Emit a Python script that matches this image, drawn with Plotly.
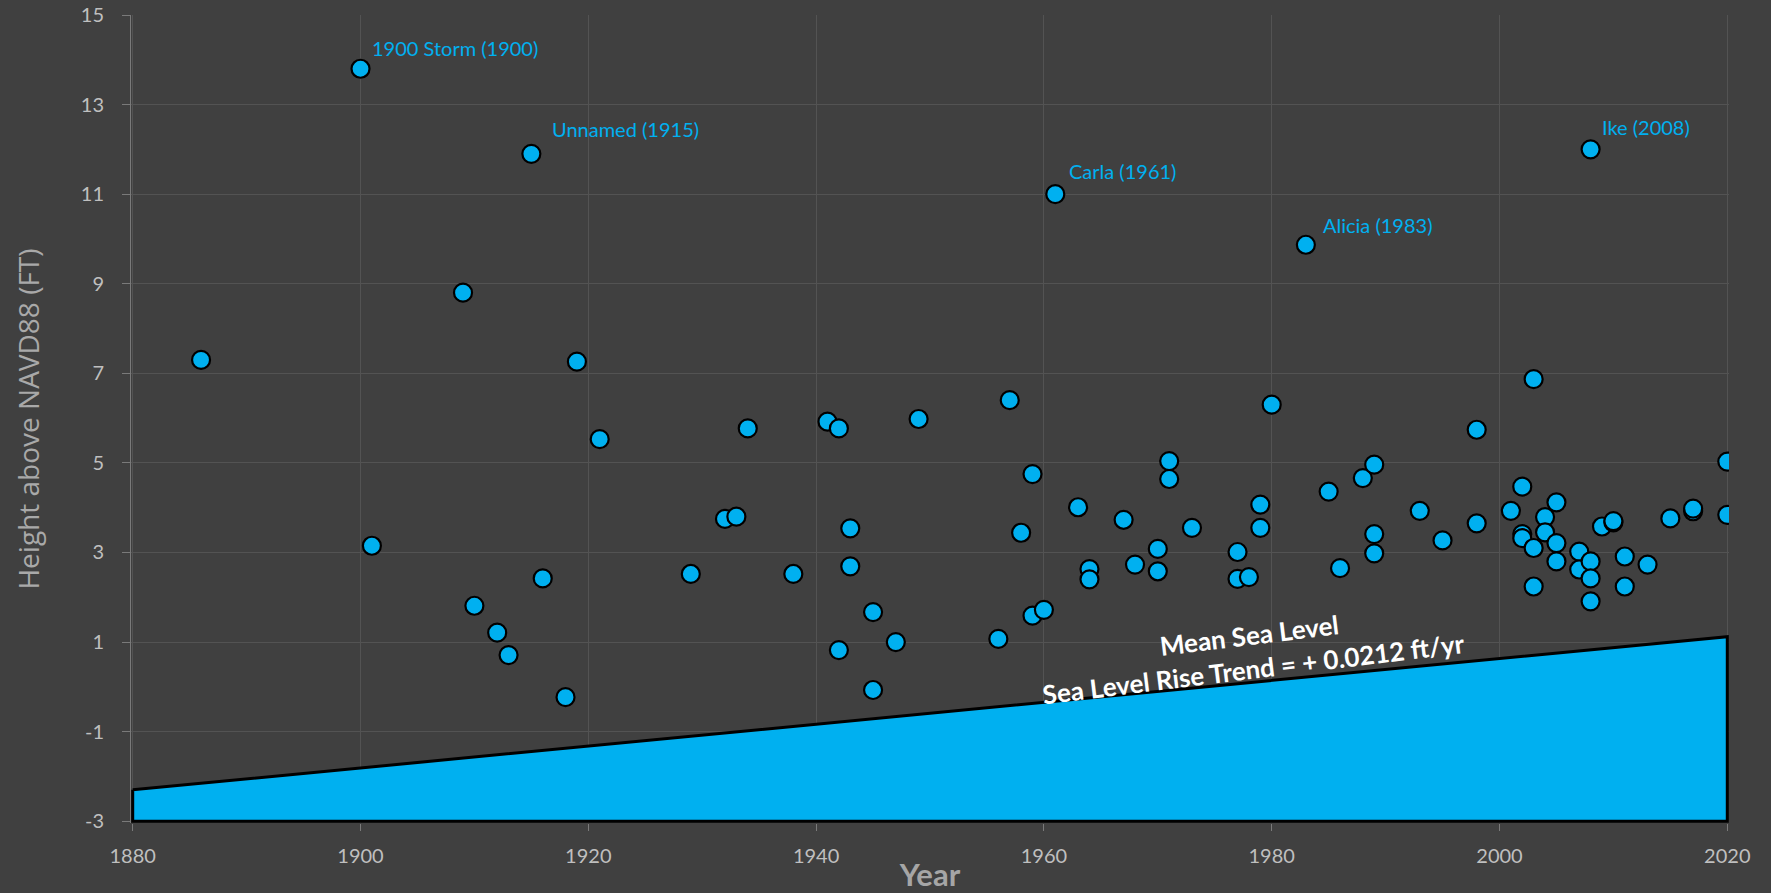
import plotly.graph_objects as go

# surge heights (ft above NAVD88)
years = [
    1886, 1900, 1901, 1909, 1910, 1912, 1913, 1915, 1916, 1918, 1919, 1921,
    1929, 1932, 1933, 1934, 1938, 1941, 1942, 1942, 1943, 1943, 1945, 1945,
    1947, 1949, 1956, 1957, 1958, 1959, 1959, 1960, 1961, 1963, 1964, 1964,
    1967, 1968, 1970, 1970, 1971, 1971, 1973, 1977, 1977, 1978, 1979, 1979,
    1980, 1983, 1985, 1986, 1988, 1989, 1989, 1989, 1993, 1995, 1998, 1998,
    2001, 2002, 2002, 2002, 2003, 2003, 2003, 2004, 2004, 2005, 2005, 2005,
    2007, 2007, 2008, 2008, 2008, 2008, 2009, 2010, 2010, 2011, 2011, 2013,
    2015, 2017, 2017, 2020, 2020,
]
heights = [
    7.30, 13.80, 3.15, 8.80, 1.81, 1.21, 0.71, 11.90, 2.42, -0.23, 7.26, 5.53,
    2.52, 3.75, 3.80, 5.77, 2.52, 5.92, 5.77, 0.82, 3.54, 2.69, 1.67, -0.07,
    1.00, 5.98, 1.07, 6.40, 3.44, 4.75, 1.59, 1.72, 11.00, 4.01, 2.63, 2.40,
    3.73, 2.73, 3.08, 2.58, 5.04, 4.64, 3.55, 3.01, 2.41, 2.45, 4.07, 3.55,
    6.30, 9.87, 4.36, 2.65, 4.66, 4.96, 3.41, 2.98, 3.93, 3.27, 5.74, 3.65,
    3.93, 4.47, 3.41, 3.32, 6.87, 3.10, 2.24, 3.79, 3.45, 4.12, 3.21, 2.80,
    3.02, 2.62, 12.00, 2.80, 2.42, 1.91, 3.58, 3.67, 3.70, 2.91, 2.24, 2.73,
    3.76, 3.92, 3.98, 5.03, 3.84,
]

storm_names = ["1900 Storm (1900)", "Unnamed (1915)", "Carla (1961)", "Alicia (1983)", "Ike (2008)"]
storm_years = [1900, 1915, 1961, 1983, 2008]

msl_years = [1880, 2020]
msl_heights = [-2.3, 1.12]
y_floor = -3

x_ticks = [1880, 1900, 1920, 1940, 1960, 1980, 2000, 2020]
y_ticks = [-3, -1, 1, 3, 5, 7, 9, 11, 13, 15]

BG = "#404040"
BLUE = "#00B0F0"
GRID = "#535353"
TICK_COLOR = "#bfbfbf"

fig = go.Figure()

# mean sea level wedge
fig.add_trace(go.Scatter(
    x=[msl_years[0], msl_years[1], msl_years[1], msl_years[0], msl_years[0]],
    y=[msl_heights[0], msl_heights[1], y_floor, y_floor, msl_heights[0]],
    mode="lines",
    fill="toself",
    fillcolor=BLUE,
    line=dict(color="black", width=3),
    hoverinfo="skip",
    showlegend=False,
))

fig.add_trace(go.Scatter(
    x=years,
    y=heights,
    mode="markers",
    marker=dict(size=18, color=BLUE, line=dict(color="black", width=2.2)),
    showlegend=False,
))

# labels for the big storms, attached to the highest reading of that year
x_shifts = [9, 19, 12, 15, 9]
y_shifts = [21, 25, 23, 20, 22]
for name, yr, dx, dy in zip(storm_names, storm_years, x_shifts, y_shifts):
    h = max(hv for yv, hv in zip(years, heights) if yv == yr)
    fig.add_annotation(
        x=yr, y=h, text=name, showarrow=False,
        xanchor="left", yanchor="middle", xshift=dx, yshift=dy,
        font=dict(family="Lato", size=20, color=BLUE),
    )

fig.add_annotation(
    x=1978.2, y=0.78,
    text="Mean Sea Level<br>Sea Level Rise Trend = + 0.0212 ft/yr",
    showarrow=False, textangle=-7, align="center",
    font=dict(family="Lato", size=26, color="white", weight="bold"),
)

fig.update_layout(
    width=1771,
    height=893,
    template="none",
    paper_bgcolor=BG,
    plot_bgcolor=BG,
    margin=dict(l=131, r=42, t=15, b=70),
    showlegend=False,
    xaxis=dict(
        range=[1879.85, 2020.15],
        tickvals=x_ticks,
        ticks="outside", ticklen=7, tickcolor="#7a7a7a", tickwidth=1,
        showgrid=True, gridcolor=GRID, gridwidth=1,
        zeroline=False, showline=False,
        tickfont=dict(family="Lato", size=20, color=TICK_COLOR),
        ticklabelstandoff=8,
        automargin=False,
        title=dict(text="<b>Year</b>", standoff=2,
                   font=dict(family="Lato", size=31, color="#a6a6a6")),
    ),
    yaxis=dict(
        range=[-3.04, 15],
        tickvals=y_ticks,
        ticktext=[str(v) for v in y_ticks],
        ticks="outside", ticklen=8, tickcolor="#7a7a7a", tickwidth=1,
        showgrid=True, gridcolor=GRID, gridwidth=1,
        zeroline=False, showline=True, linecolor="#7a7a7a", linewidth=1,
        tickfont=dict(family="Lato", size=20, color=TICK_COLOR),
        ticklabelstandoff=14,
        automargin=False,
        title=dict(text="Height above NAVD88 (FT)", standoff=32,
                   font=dict(family="Open Sans", size=28, color="#a9a9a9")),
    ),
)

fig.write_html(
    "out.html",
    config={"displayModeBar": False},
    post_script="document.body.style.margin='0';",
)
